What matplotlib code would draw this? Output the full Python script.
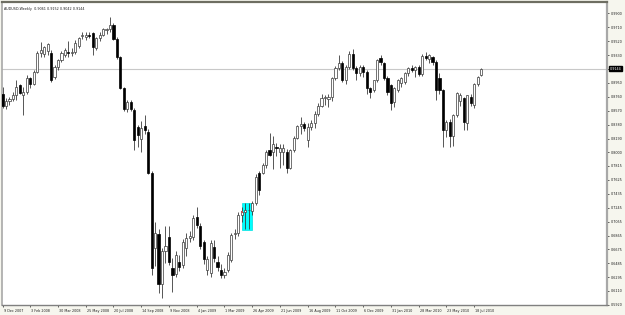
import matplotlib
matplotlib.use("Agg")
import matplotlib.pyplot as plt
from matplotlib.patches import Rectangle
import matplotlib.transforms as mtransforms

# ---------------- data (AUDUSD weekly) ----------------
opens = [0.8800,0.8640,0.8700,0.8730,0.8790,0.8920,0.8790,0.8830,0.9010,0.8940,
         0.9100,0.9360,0.9340,0.9380,0.9360,0.9030,0.9170,0.9260,0.9330,0.9370,
         0.9360,0.9370,0.9460,0.9590,0.9580,0.9610,0.9630,0.9420,0.9560,0.9610,
         0.9670,0.9690,0.9740,0.9550,0.9300,0.8880,0.8590,0.8690,0.8580,0.8350,
         0.8190,0.8360,0.8280,0.7720,0.6700,0.6880,0.6200,0.6660,0.6850,0.6420,
         0.6340,0.6510,0.6460,0.6700,0.6830,0.6840,0.7120,0.6990,0.6780,0.6400,
         0.6350,0.6710,0.6510,0.6400,0.6330,0.6400,0.6530,0.6880,0.6900,0.7140,
         0.7190,0.7210,0.7200,0.7310,0.7720,0.7720,0.7830,0.8030,0.8010,0.8080,
         0.8000,0.8000,0.8010,0.7790,0.8030,0.8200,0.8360,0.8390,0.8170,0.8350,
         0.8400,0.8520,0.8640,0.8740,0.8730,0.8760,0.9010,0.9150,0.9220,0.8990,
         0.9170,0.9340,0.9150,0.9090,0.9160,0.9100,0.8880,0.8850,0.8990,0.9290,
         0.9220,0.9010,0.8920,0.8690,0.8850,0.8950,0.8960,0.9080,0.9150,0.9130,
         0.9160,0.9070,0.9310,0.9280,0.9300,0.9230,0.9020,0.8850,0.8310,0.8420,
         0.8220,0.8510,0.8700,0.8740,0.8400,0.8760,0.8650,0.8940,0.9061]
highs = [0.8890,0.8740,0.8760,0.8820,0.8990,0.8940,0.8890,0.9060,0.9030,0.9120,
         0.9380,0.9510,0.9460,0.9500,0.9400,0.9190,0.9280,0.9380,0.9420,0.9520,
         0.9420,0.9540,0.9580,0.9650,0.9640,0.9650,0.9650,0.9570,0.9640,0.9700,
         0.9700,0.9849,0.9770,0.9570,0.9320,0.8900,0.8720,0.8710,0.8600,0.8380,
         0.8430,0.8510,0.8320,0.7750,0.7050,0.6950,0.6700,0.7000,0.6990,0.6560,
         0.6650,0.6600,0.6820,0.6900,0.6920,0.7140,0.7260,0.7030,0.6800,0.6580,
         0.6800,0.6800,0.6580,0.6480,0.6420,0.6640,0.6900,0.6960,0.7180,0.7250,
         0.7310,0.7310,0.7330,0.7700,0.7750,0.7850,0.8030,0.8260,0.8220,0.8130,
         0.8110,0.8120,0.8050,0.8050,0.8220,0.8380,0.8480,0.8420,0.8400,0.8440,
         0.8560,0.8680,0.8800,0.8780,0.8800,0.9030,0.9180,0.9330,0.9250,0.9200,
         0.9380,0.9406,0.9180,0.9200,0.9190,0.9120,0.8900,0.8990,0.9280,0.9330,
         0.9240,0.9040,0.8930,0.8900,0.9000,0.9030,0.9100,0.9170,0.9200,0.9180,
         0.9190,0.9340,0.9376,0.9340,0.9320,0.9260,0.9080,0.8870,0.8440,0.8450,
         0.8520,0.8830,0.8810,0.8760,0.8780,0.8800,0.8950,0.9050,0.9152]
lows = [0.8600,0.8590,0.8650,0.8700,0.8720,0.8800,0.8510,0.8800,0.8880,0.8920,
        0.9080,0.9300,0.9300,0.9330,0.8960,0.9000,0.9130,0.9230,0.9300,0.9300,
        0.9310,0.9340,0.9420,0.9550,0.9540,0.9560,0.9330,0.9400,0.9520,0.9590,
        0.9620,0.9650,0.9530,0.9280,0.8860,0.8560,0.8550,0.8560,0.8030,0.8080,
        0.8010,0.8250,0.7700,0.6330,0.6450,0.6080,0.6010,0.6490,0.6460,0.6100,
        0.6300,0.6380,0.6420,0.6580,0.6780,0.6800,0.6970,0.6680,0.6480,0.6330,
        0.6300,0.6500,0.6380,0.6290,0.6280,0.6360,0.6500,0.6820,0.6860,0.7050,
        0.6960,0.6950,0.7150,0.7280,0.7420,0.7700,0.7790,0.7950,0.7780,0.7950,
        0.7790,0.7830,0.7720,0.7770,0.8000,0.8180,0.8250,0.8290,0.8080,0.8300,
        0.8330,0.8500,0.8620,0.8650,0.8620,0.8700,0.8990,0.9120,0.8960,0.8940,
        0.9140,0.9120,0.8990,0.9040,0.9030,0.8800,0.8740,0.8820,0.8960,0.9190,
        0.8990,0.8780,0.8580,0.8620,0.8830,0.8900,0.8930,0.9050,0.9100,0.9030,
        0.9040,0.9050,0.9260,0.9220,0.9200,0.8720,0.8800,0.8070,0.8210,0.8080,
        0.8090,0.8490,0.8640,0.8310,0.8310,0.8640,0.8600,0.8910,0.9042]
closes = [0.8640,0.8700,0.8730,0.8790,0.8900,0.8810,0.8830,0.9010,0.8940,0.9100,
          0.9360,0.9400,0.9440,0.9480,0.8990,0.9170,0.9260,0.9360,0.9400,0.9360,
          0.9370,0.9500,0.9560,0.9600,0.9610,0.9590,0.9440,0.9560,0.9610,0.9680,
          0.9690,0.9740,0.9550,0.9300,0.8880,0.8590,0.8690,0.8590,0.8170,0.8240,
          0.8330,0.8310,0.7720,0.6420,0.6900,0.6200,0.6660,0.6720,0.6500,0.6320,
          0.6600,0.6440,0.6780,0.6830,0.6860,0.7100,0.7010,0.6720,0.6540,0.6540,
          0.6760,0.6560,0.6440,0.6330,0.6370,0.6600,0.6870,0.6900,0.7140,0.7190,
          0.7210,0.7220,0.7310,0.7670,0.7490,0.7830,0.8010,0.7960,0.8110,0.8060,
          0.8060,0.8060,0.7790,0.8030,0.8200,0.8360,0.8390,0.8330,0.8350,0.8400,
          0.8520,0.8640,0.8740,0.8760,0.8760,0.9010,0.9150,0.9220,0.8990,0.9170,
          0.9340,0.9150,0.9090,0.9160,0.9100,0.8880,0.8830,0.8990,0.9260,0.9240,
          0.9010,0.8830,0.8670,0.8880,0.8990,0.9020,0.9080,0.9150,0.9130,0.9160,
          0.9070,0.9310,0.9290,0.9330,0.9230,0.8850,0.8850,0.8310,0.8420,0.8220,
          0.8510,0.8810,0.8780,0.8420,0.8780,0.8670,0.8940,0.9030,0.9144]

date_labels = ["9 Dec 2007", "3 Feb 2008", "30 Mar 2008", "25 May 2008", "20 Jul 2008",
               "14 Sep 2008", "9 Nov 2008", "4 Jan 2009", "1 Mar 2009", "26 Apr 2009",
               "21 Jun 2009", "16 Aug 2009", "11 Oct 2009", "6 Dec 2009", "31 Jan 2010",
               "28 Mar 2010", "23 May 2010", "18 Jul 2010"]
date_step = 8  # bars between date labels

price_labels = ["0.9900", "0.9710", "0.9520", "0.9330", "0.9140", "0.8950", "0.8760",
                "0.8570", "0.8380", "0.8190", "0.8000", "0.7815", "0.7625", "0.7435",
                "0.7245", "0.7055", "0.6865", "0.6675", "0.6485", "0.6295", "0.6110",
                "0.5920"]

symbol = "AUDUSD,Weekly"
last_price = closes[-1]

# highlighted rectangle object (bar index range, price range)
box_bars = [69, 72]
box_prices = [0.6940, 0.7310]
mark_bar, mark_price = 69, 0.7190

# ---------------- figure ----------------
W, H = 625, 315
fig = plt.figure(figsize=(W / 100, H / 100), dpi=100)
fig.patch.set_facecolor("#f6f6ee")
ax = fig.add_axes([2 / W, 10 / H, 605 / W, 303 / H])
ax.set_facecolor("white")

px_per_bar = 3.468
x0 = -0.5 / px_per_bar
ax.set_xlim(x0, x0 + 605 / px_per_bar)
ax.set_ylim(0.5916, 1.00543)

n = len(closes)
xs = list(range(n))

# rectangle object (behind candles)
ax.add_patch(Rectangle((box_bars[0], box_prices[0]), box_bars[1] - box_bars[0],
                       box_prices[1] - box_prices[0], facecolor="#00ffff",
                       edgecolor="#00e0e0", lw=0.5, zorder=1))

# current price line
ax.axhline(last_price, color="#c8c8c8", lw=0.8, zorder=1.5)

# wicks
ax.vlines(xs, lows, highs, color="#3a3a3a", lw=0.6, zorder=2)

# bodies
bull = [c >= o for o, c in zip(opens, closes)]
bottoms = [min(o, c) for o, c in zip(opens, closes)]
heights = [max(abs(c - o), 0.0009) for o, c in zip(opens, closes)]
ax.bar([x for x, b in zip(xs, bull) if b], [h for h, b in zip(heights, bull) if b],
       bottom=[v for v, b in zip(bottoms, bull) if b], width=0.62,
       facecolor="white", edgecolor="#3a3a3a", lw=0.5, zorder=3)
ax.bar([x for x, b in zip(xs, bull) if not b], [h for h, b in zip(heights, bull) if not b],
       bottom=[v for v, b in zip(bottoms, bull) if not b], width=0.62,
       facecolor="black", edgecolor="black", lw=0.5, zorder=3)

ax.plot([mark_bar], [mark_price], marker="s", ms=1.6, color="#c05050", mew=0, zorder=4)

# spines
for side, col, lw in [("top", "#6e6e62", 1.6), ("left", "#a8a8a8", 1.2),
                      ("right", "#a8a8a8", 1.6), ("bottom", "#808080", 1.0)]:
    ax.spines[side].set_color(col)
    ax.spines[side].set_linewidth(lw)

fs = 2.4
# y axis on right
tick_vals = [float(s) for s in price_labels]
ax.yaxis.tick_right()
ax.set_yticks(tick_vals)
ax.set_yticklabels([s if abs(float(s) - last_price) > 0.004 else "" for s in price_labels],
                   fontsize=fs, color="#202020")
ax.tick_params(axis="y", direction="out", length=1.5, width=0.5, pad=1.5, colors="#202020")

# x axis labels
ax.set_xticks([i * date_step for i in range(len(date_labels))])
ax.set_xticklabels(date_labels, fontsize=fs, color="#202020")
ax.tick_params(axis="x", direction="out", length=1.5, width=0.5, pad=1.2, colors="#202020")
offset = mtransforms.ScaledTranslation(1 / 100, 0, fig.dpi_scale_trans)
for lab in ax.get_xticklabels():
    lab.set_ha("left")
    lab.set_transform(lab.get_transform() + offset)

# current price box
ax.text(1.004, last_price, f"{last_price:.4f}", transform=ax.get_yaxis_transform(),
        fontsize=fs, color="white", va="center", ha="left", clip_on=False, zorder=10,
        bbox=dict(boxstyle="square,pad=0.25", facecolor="black", edgecolor="black"))

# header
ax.text(0.004, 0.985, f"{symbol}  {opens[-1]:.4f} {highs[-1]:.4f} {lows[-1]:.4f} {closes[-1]:.4f}",
        transform=ax.transAxes, fontsize=fs, color="#202020", va="top", ha="left")

fig.savefig("out.png", dpi=100, facecolor=fig.get_facecolor())
